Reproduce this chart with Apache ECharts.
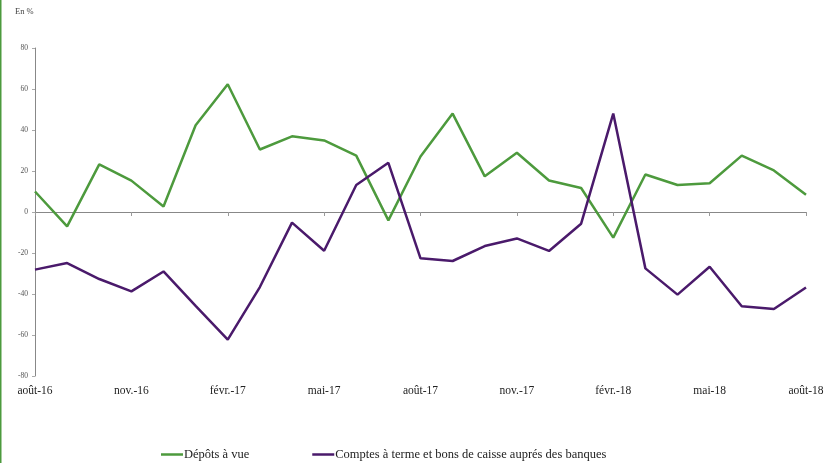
<!DOCTYPE html>
<html>
<head>
<meta charset="utf-8">
<script src="https://cdn.jsdelivr.net/npm/echarts@6/dist/echarts.min.js"></script>
<style>
  html, body { margin: 0; padding: 0; background: #fff; }
  #chart { width: 828px; height: 463px; }
</style>
</head>
<body>
<div id="chart"></div>
<script>
// Monthly categories, août 2016 – août 2018
const months = [
  'août-16', 'sept.-16', 'oct.-16', 'nov.-16', 'déc.-16', 'janv.-17', 'févr.-17',
  'mars-17', 'avr.-17', 'mai-17', 'juin-17', 'juil.-17', 'août-17', 'sept.-17',
  'oct.-17', 'nov.-17', 'déc.-17', 'janv.-18', 'févr.-18', 'mars-18', 'avr.-18',
  'mai-18', 'juin-18', 'juil.-18', 'août-18'
];

// Variations in %
const depotsAVue = [
  10, -7, 23.2, 15.3, 2.7, 42.3, 62.3, 30.5, 36.9, 34.9, 27.5, -4.1, 27.1,
  48, 17.4, 28.9, 15.4, 11.7, -12.5, 18.3, 13.2, 14, 27.5, 20.3, 8.4
];
const comptesATerme = [
  -28.1, -24.9, -32.7, -38.7, -29, -45.8, -62.3, -36.6, -5.2, -18.9, 13.2, 24,
  -22.6, -23.9, -16.6, -12.9, -19, -5.7, 48, -27.5, -40.3, -26.7, -46, -47.3, -36.8
];

const yTicks = { min: -80, max: 80, step: 20 };

const serif = '"Liberation Serif", "DejaVu Serif", serif';
const green = '#4d9a3d';
const purple = '#4a1a6b';

const chart = echarts.init(document.getElementById('chart'), null, { renderer: 'canvas' });

chart.setOption({
  animation: false,
  backgroundColor: '#ffffff',
  grid: { left: 35, right: 22, top: 48, bottom: 87, containLabel: false },
  graphic: [
    {
      type: 'text', left: 15, top: 7,
      style: { text: 'En %', font: '8.5px ' + serif, fill: '#444' }
    },
    {
      type: 'rect', shape: { x: 0, y: 0, width: 1.5, height: 463 },
      style: { fill: green }
    }
  ],
  legend: {
    left: 156, top: 443,
    icon: 'rect', itemWidth: 22, itemHeight: 2.5, itemGap: 63,
    textStyle: { fontFamily: serif, fontSize: 12.5, color: '#222', padding: [0, 0, 0, -4] },
    data: ['Dépôts à vue', 'Comptes à terme et bons de caisse auprés des banques']
  },
  xAxis: [
    {
      type: 'category', data: months, boundaryGap: false,
      axisLine: { onZero: true, lineStyle: { color: '#888', width: 1 } },
      axisTick: { show: true, interval: 2, length: 4, lineStyle: { color: '#999' } },
      axisLabel: { show: false }
    },
    {
      type: 'category', data: months, boundaryGap: false, position: 'bottom',
      axisLine: { show: false, onZero: false },
      axisTick: { show: false },
      axisLabel: {
        interval: 2, margin: 9,
        fontFamily: serif, fontSize: 11.5, color: '#222'
      }
    }
  ],
  yAxis: {
    type: 'value', min: yTicks.min, max: yTicks.max, interval: yTicks.step,
    axisLine: { show: true, lineStyle: { color: '#888', width: 1 } },
    axisTick: { show: true, length: 3, lineStyle: { color: '#aaa' } },
    splitLine: { show: false },
    axisLabel: { fontFamily: serif, fontSize: 7.5, color: '#555', margin: 7 }
  },
  series: [
    {
      name: 'Dépôts à vue', type: 'line', xAxisIndex: 0,
      data: depotsAVue, showSymbol: false, symbol: 'none',
      lineStyle: { color: green, width: 2.5 }, itemStyle: { color: green }
    },
    {
      name: 'Comptes à terme et bons de caisse auprés des banques', type: 'line', xAxisIndex: 0,
      data: comptesATerme, showSymbol: false, symbol: 'none',
      lineStyle: { color: purple, width: 2.5 }, itemStyle: { color: purple }
    }
  ]
});
</script>
</body>
</html>
